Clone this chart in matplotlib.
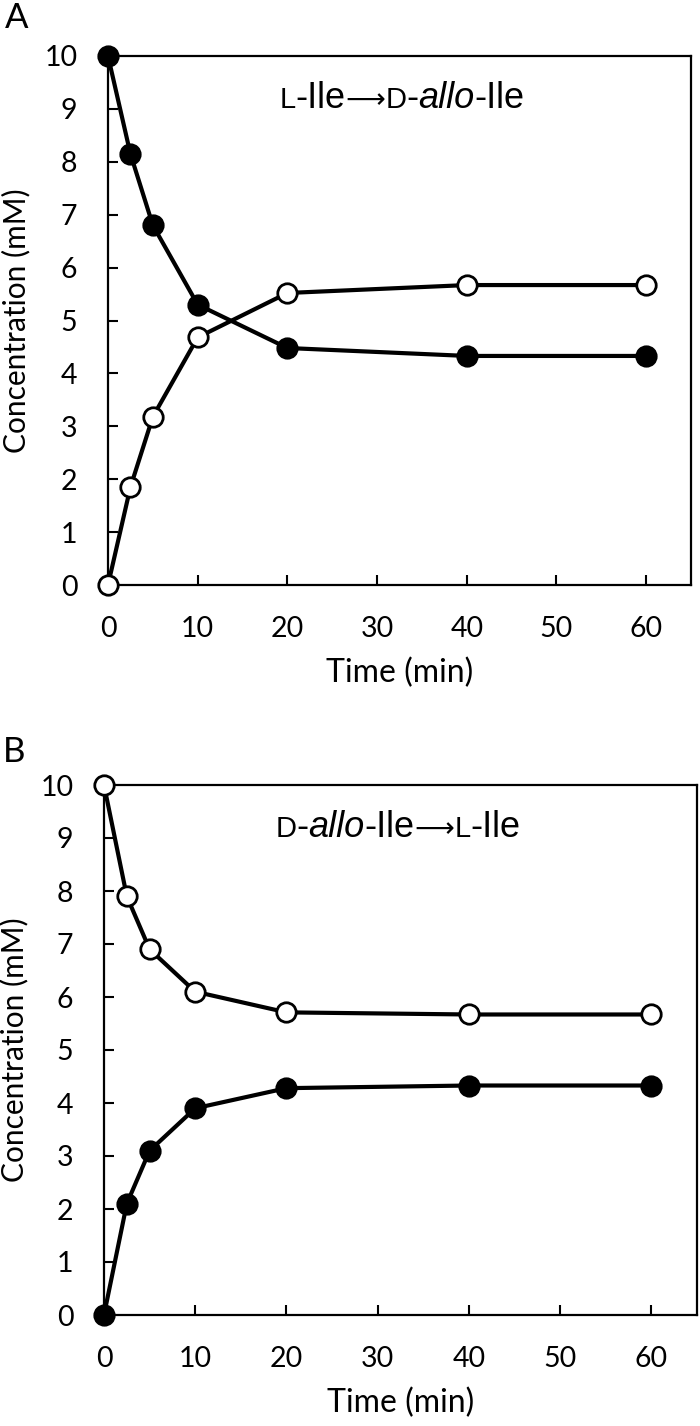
import numpy as np
import matplotlib
matplotlib.use("Agg")
import matplotlib.pyplot as plt
from matplotlib.offsetbox import TextArea, HPacker, AnnotationBbox

# time points (min)
time = [0, 2.5, 5, 10, 20, 40, 60]

# panel A: L-Ile -> D-allo-Ile
a_lile = [10, 8.15, 6.8, 5.3, 4.48, 4.33, 4.33]
a_dallo = [0, 1.85, 3.18, 4.68, 5.52, 5.67, 5.67]

# panel B: D-allo-Ile -> L-Ile
b_dallo = [10, 7.9, 6.9, 6.1, 5.71, 5.67, 5.67]
b_lile = [0, 2.1, 3.1, 3.9, 4.28, 4.33, 4.33]

xticks = [0, 10, 20, 30, 40, 50, 60]
yticks = list(range(0, 11))

plt.rcParams['font.family'] = ['Lato', 'DejaVu Sans']

fig = plt.figure(figsize=(7, 14.26), dpi=100)
W, H = 700, 1426

def make_ax(l, r, t, b):
    return fig.add_axes([l / W, 1 - b / H, (r - l) / W, (b - t) / H])

axA = make_ax(108, 691, 56, 585)
axB = make_ax(104, 697, 785, 1315)

def title_box(ax, parts, x, y):
    kids = []
    for txt, size, style, fam in parts:
        kids.append(TextArea(txt, textprops=dict(fontsize=size, family=fam, style=style, color='black')))
    box = HPacker(children=kids, align='baseline', pad=0, sep=0)
    ab = AnnotationBbox(box, (x, y), xycoords='data', frameon=False, box_alignment=(0.5, 0.5))
    ax.add_artist(ab)

ARIAL = ['Liberation Sans', 'DejaVu Sans']
ARROW = ['DejaVu Sans']

def style_ax(ax):
    ax.set_xlim(0, 65)
    ax.set_ylim(0, 10)
    ax.set_xticks(xticks)
    ax.set_yticks(yticks)
    ax.tick_params(direction='in', length=7.5, width=1.5, labelsize=20.5, pad=22)
    ax.tick_params(axis='x', top=False)
    ax.tick_params(axis='y', right=False)
    for s in ax.spines.values():
        s.set_linewidth(1.6)
    ax.set_xlabel('Time (min)', fontsize=23)
    ax.set_ylabel('Concentration (mM)', fontsize=21.5)

line_kw = dict(color='black', lw=3.0, ms=14, mew=2.0, clip_on=False)

big, small = 26, 21

# panel A
axA.plot(time, a_dallo, marker='o', mfc='white', mec='black', zorder=3, **line_kw)
axA.plot(time, a_lile, marker='o', mfc='black', mec='black', zorder=4, **line_kw)
style_ax(axA)
axA.xaxis.set_label_coords(0.5, -0.166)
axA.yaxis.set_label_coords(-0.157, 0.5)
title_box(axA, [('L', small, 'normal', ARIAL), ('-Ile', big, 'normal', ARIAL), ('\u27f6', 20, 'normal', ARROW),
                ('D', small, 'normal', ARIAL), ('-', big, 'normal', ARIAL), ('allo', big, 'italic', ARIAL),
                ('-Ile', big, 'normal', ARIAL)], 32.8, 9.2)

# panel B
axB.plot(time, b_dallo, marker='o', mfc='white', mec='black', zorder=3, **line_kw)
axB.plot(time, b_lile, marker='o', mfc='black', mec='black', zorder=4, **line_kw)
style_ax(axB)
axB.xaxis.set_label_coords(0.5, -0.166)
axB.yaxis.set_label_coords(-0.151, 0.5)
title_box(axB, [('D', small, 'normal', ARIAL), ('-', big, 'normal', ARIAL), ('allo', big, 'italic', ARIAL),
                ('-Ile', big, 'normal', ARIAL), ('\u27f6', 20, 'normal', ARROW), ('L', small, 'normal', ARIAL),
                ('-Ile', big, 'normal', ARIAL)], 32.2, 9.2)

for ax in (axA, axB):
    ax.xaxis.label.set_verticalalignment('center')
    ax.yaxis.label.set_verticalalignment('center')

fig.text(5 / W, 1 - 18 / H, 'A', fontsize=25, va='center', ha='left')
fig.text(3 / W, 1 - 752 / H, 'B', fontsize=25, va='center', ha='left')

fig.savefig('out.png', dpi=100)
